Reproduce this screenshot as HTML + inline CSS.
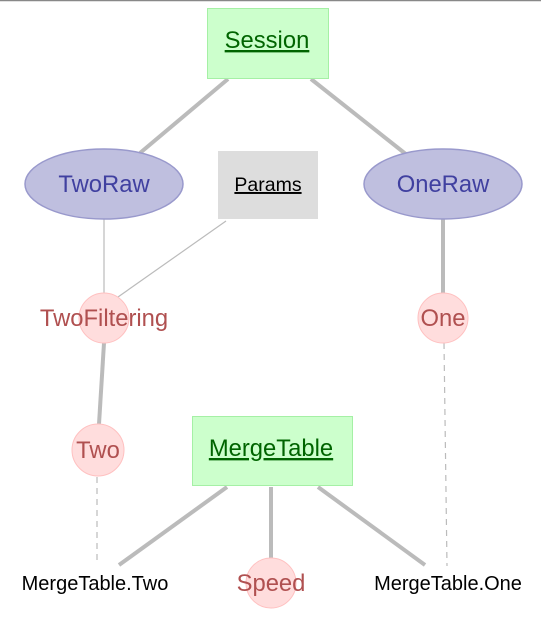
<!DOCTYPE html>
<html><head><style>body{margin:0;background:#fff}svg{display:block}</style></head><body>
<svg width="541" height="617" xmlns="http://www.w3.org/2000/svg" font-family="Liberation Sans, sans-serif">
<line x1="0" y1="0.5" x2="541" y2="0.5" stroke="#888" stroke-width="1.5"/>
<g stroke="#bbb" stroke-width="4">
<line x1="228" y1="79" x2="140" y2="153"/>
<line x1="311" y1="79" x2="407" y2="155"/>
<line x1="104" y1="343" x2="99" y2="424"/>
<line x1="443" y1="219" x2="443" y2="293"/>
<line x1="227" y1="487" x2="119" y2="565"/>
<line x1="271" y1="487" x2="271" y2="558"/>
<line x1="318" y1="487" x2="425" y2="565"/>
</g>
<g stroke="#bbb" stroke-width="1.2">
<line x1="104" y1="219" x2="104" y2="293"/>
<line x1="226" y1="221" x2="118" y2="297"/>
<line x1="97" y1="477" x2="97" y2="565" stroke-dasharray="6,5"/>
<line x1="444" y1="343" x2="447" y2="566" stroke-dasharray="6,5"/>
</g>
<rect x="207.5" y="8.5" width="121" height="70" fill="#ccffcc" stroke="#a5f0a5"/>
<text x="267" y="48" font-size="23.8" fill="#006400" text-anchor="middle" text-decoration="underline">Session</text>
<rect x="218" y="151" width="100" height="68" fill="#dddddd"/>
<text x="268" y="191" font-size="19.5" fill="#000" text-anchor="middle" text-decoration="underline">Params</text>
<ellipse cx="104" cy="184" rx="79" ry="35" fill="#bfbfdf" stroke="#9999cc" stroke-width="1.5"/>
<text x="104" y="192" font-size="23.8" fill="#4040a0" text-anchor="middle">TwoRaw</text>
<ellipse cx="443" cy="184" rx="79" ry="35" fill="#bfbfdf" stroke="#9999cc" stroke-width="1.5"/>
<text x="443" y="192" font-size="23.8" fill="#4040a0" text-anchor="middle">OneRaw</text>
<circle cx="104" cy="318" r="25" fill="#ffdddd" stroke="#ffc0c0"/>
<text x="104" y="326" font-size="23.8" fill="#b05050" text-anchor="middle">TwoFiltering</text>
<circle cx="443" cy="318" r="25" fill="#ffdddd" stroke="#ffc0c0"/>
<text x="443" y="326" font-size="23.8" fill="#b05050" text-anchor="middle">One</text>
<circle cx="98" cy="450" r="26" fill="#ffdddd" stroke="#ffc0c0"/>
<text x="98" y="458" font-size="23.8" fill="#b05050" text-anchor="middle">Two</text>
<rect x="192.5" y="416.5" width="160" height="69" fill="#ccffcc" stroke="#a5f0a5"/>
<text x="271" y="456" font-size="23.8" fill="#006400" text-anchor="middle" text-decoration="underline">MergeTable</text>
<circle cx="271" cy="583" r="25" fill="#ffdddd" stroke="#ffc0c0"/>
<text x="271" y="591" font-size="23.8" fill="#b05050" text-anchor="middle">Speed</text>
<text x="95" y="590" font-size="20" fill="#000" text-anchor="middle">MergeTable.Two</text>
<text x="448" y="590" font-size="20" fill="#000" text-anchor="middle">MergeTable.One</text>
</svg>
</body></html>
